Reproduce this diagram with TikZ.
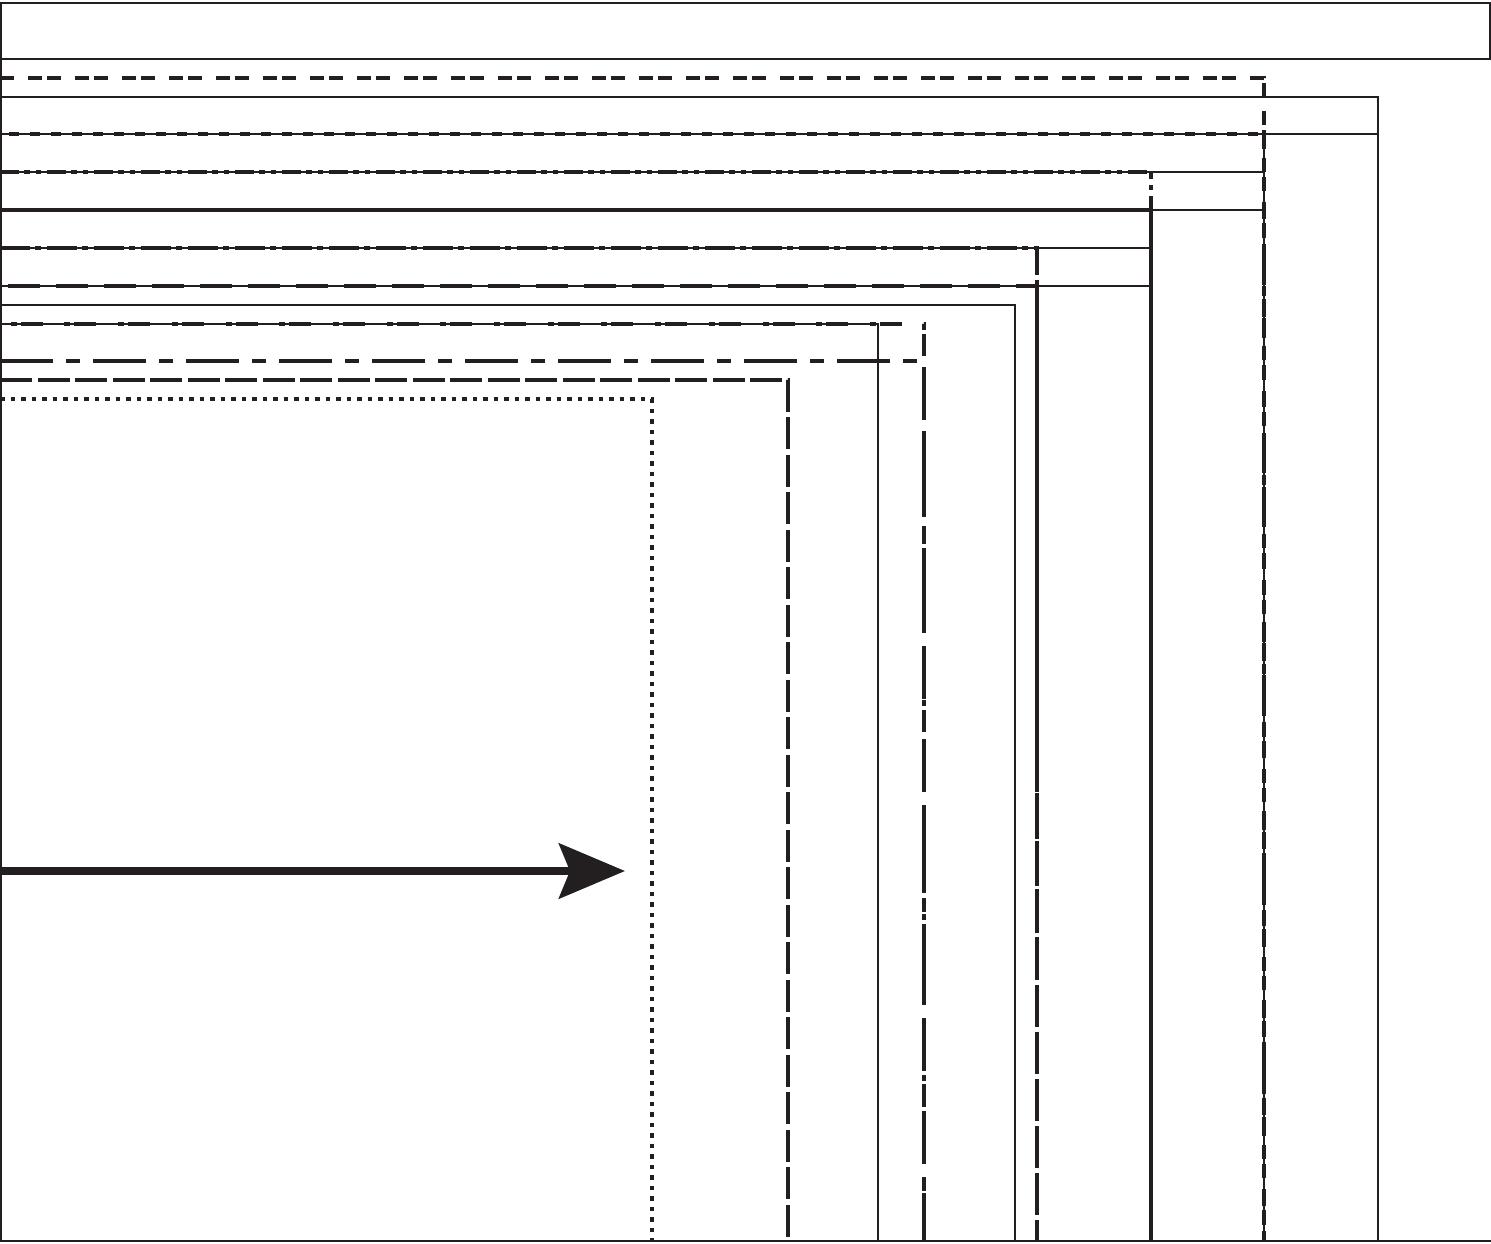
\documentclass[tikz,border=0pt]{standalone}
\usetikzlibrary{arrows.meta}
\definecolor{ink}{HTML}{231F20}
\tikzset{
  thinline/.style={draw=ink,line width=1.5pt},
  thickline/.style={draw=ink,line width=3.5pt},
  dashtwin/.style={thickline,dash pattern=on 14pt off 14pt on 14pt off 5pt},
  dashshort/.style={thickline,dash pattern=on 10pt off 11pt,dash phase=12pt},
  dashdotdot/.style={thickline,dash pattern=on 19pt off 5pt on 6pt off 6pt on 5pt off 6pt},
  dashdot/.style={thickline,dash pattern=on 30pt off 5pt on 6pt off 6pt},
  dashlong/.style={thickline,dash pattern=on 32pt off 16pt,dash phase=40pt},
  dotdash/.style={thickline,dash pattern=on 6pt off 4pt on 22pt off 21.7pt,dash phase=43pt},
  dashlongshort/.style={thickline,dash pattern=on 53pt off 13pt on 14pt off 13pt},
  dashmid/.style={thickline,dash pattern=on 32pt off 5.5pt},
  dotline/.style={draw=ink,line width=3.5pt,dash pattern=on 4.5pt off 6pt},
  bigarrow/.style={draw=ink,line width=8pt,-{Stealth[length=66pt,width=55pt,inset=11pt]}}
}
\begin{document}
\begin{tikzpicture}[x=1pt,y=-1pt]
  \useasboundingbox (0,0) rectangle (1491,1243);

  % frame and title band
  \draw[thinline] (1,3) rectangle (1490,59);
  \draw[thinline] (1,3) -- (1,1241) -- (1491,1241);

  % outer boxes
  \draw[dashtwin] (0,78) -| (1264,1241);
  \draw[thinline] (0,97) -| (1378,1241);
  \draw[thinline] (0,134) -- (1378,134);
  \draw[thinline] (1264,134) -- (1264,1241);
  \draw[dashshort] (0,134) -| (1264,1241);

  % middle boxes
  \draw[thinline] (0,172) -- (1264,172);
  \draw[dashdotdot] (0,172) -| (1151,1241);
  \draw[thinline] (1151,210) -- (1264,210);
  \draw[thickline] (0,210) -| (1151,1241);
  \draw[thinline] (0,248) -- (1151,248);
  \draw[dashdot] (0,248) -| (1037,1241);
  \draw[thinline] (0,286) -- (1151,286);
  \draw[dashlong] (0,286) -| (1037,1241);
  \draw[thinline] (0,305) -| (1015,1241);

  % inner boxes
  \draw[thinline] (0,324) -| (878,1241);
  \draw[dotdash] (0,324) -| (924,1241);
  \draw[dashlongshort] (0,361) -| (924,1241);
  \draw[dashmid] (0,380) -| (788,1241);
  \draw[dotline] (0,399) -| (652,1241);

  % arrow
  \coordinate (tail) at (0,871);
  \coordinate (tip) at (625,871);
  \draw[bigarrow] (tail) -- (tip);
\end{tikzpicture}
\end{document}
